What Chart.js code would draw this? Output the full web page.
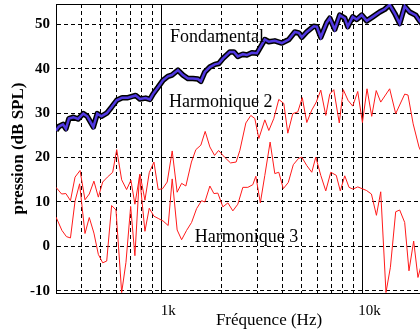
<!DOCTYPE html>
<html>
<head>
<meta charset="utf-8">
<script src="https://cdn.jsdelivr.net/npm/chart.js@4.4.1/dist/chart.umd.min.js"></script>
<style>
  html, body { margin: 0; padding: 0; background: #fff; overflow: hidden; }
  #wrap { width: 425px; height: 333px; }
</style>
</head>
<body>
<div id="wrap"><canvas id="myChart" width="425" height="333"></canvas></div>
<script>
// Fondamental
const fondFreq = [300, 310, 325, 336, 348, 366, 386, 410, 429, 460, 481, 504, 536, 565, 601, 640, 683, 746, 784, 837, 879,
  910, 963, 1020, 1080, 1130, 1211, 1281, 1357, 1437, 1521, 1574, 1648, 1745, 1848, 1934, 2025, 2194, 2296, 2403, 2545,
  2664, 2821, 2987, 3273, 3426, 3669, 3975, 4306, 4612, 4828, 4996, 5290, 5730, 5931, 6209, 6649, 6881, 7287, 7716, 8169,
  8453, 8948, 9370, 9920, 10503, 11250, 12188, 12898, 13657, 14466, 15316, 16218, 17170, 18388, 19253, 19925];
const fondDb = [26.1, 27.0, 27.5, 26.5, 28.8, 29.1, 28.7, 29.9, 29.3, 26.9, 29.9, 29.3, 30.0, 31.3, 32.9, 33.5, 33.5, 34.0, 33.2, 33.4, 33.1,
  34.3, 35.8, 37.4, 38.3, 38.6, 39.7, 38.6, 37.8, 37.8, 37.7, 37.2, 39.3, 40.4, 41.0, 41.2, 42.3, 43.8, 43.8, 42.8, 43.3,
  43.1, 43.6, 43.5, 46.6, 46.1, 46.3, 45.8, 46.6, 48.3, 48.1, 47.1, 48.3, 49.6, 49.5, 47.1, 50.4, 51.4, 48.9, 52.1, 51.4,
  49.5, 51.7, 51.1, 52.1, 50.8, 51.7, 52.8, 53.4, 54.4, 52.5, 50.2, 54.1, 52.8, 52.1, 50.8, 50.0];

// Harmonique 2
const h2Freq = [300, 320, 336, 354, 373, 395, 418, 439, 463, 487, 512, 540, 574, 601, 636, 673, 707, 740, 784, 830, 872,
  920, 966, 1016, 1071, 1134, 1200, 1263, 1326, 1413, 1487, 1574, 1654, 1745, 1842, 1928, 2064, 2211, 2357, 2459, 2634,
  2789, 2919, 3056, 3273, 3426, 3627, 3840, 4067, 4257, 4507, 4773, 5025, 5290, 5601, 5897, 6209, 6574, 6881, 7204, 7672,
  8031, 8482, 8948, 9478, 10000, 10540, 11122, 11710, 12330, 13657, 14633, 16218, 16842, 17871, 19100, 19925];
const h2Db = [13.3, 11.8, 11.9, 10.3, 15.6, 17.1, 10.5, 11.8, 14.7, 11.1, 14.5, 15.6, 16.7, 21.8, 15.0, 12.8, 14.9, 9.5, 16.3, 10.4, 16.6,
  19.0, 12.8, 13.0, 14.5, 21.5, 12.2, 14.2, 13.6, 19.0, 21.8, 22.8, 25.9, 22.4, 20.5, 21.6, 20.1, 18.8, 19.0, 21.6, 27.8,
  29.5, 28.8, 24.3, 28.5, 26.1, 28.8, 33.1, 32.2, 25.5, 29.9, 30.3, 33.5, 27.9, 30.7, 32.5, 35.2, 29.5, 34.3, 35.3, 27.8,
  35.3, 32.9, 31.6, 34.9, 27.9, 35.5, 29.3, 35.1, 32.5, 35.5, 29.9, 34.3, 34.1, 27.6, 22.4, 20.5];

// Harmonique 3
const h3Freq = [300, 321, 338, 354, 373, 393, 418, 439, 463, 487, 512, 536, 567, 596, 636, 668, 705, 740, 780, 830, 872,
  920, 966, 1023, 1083, 1134, 1200, 1263, 1337, 1416, 1499, 1587, 1648, 1745, 1827, 1912, 2025, 2144, 2270, 2403, 2545,
  2695, 2853, 2953, 3109, 3273, 3477, 3669, 3840, 4044, 4281, 4533, 4811, 4996, 5290, 5601, 5863, 6209, 6574, 6961, 7413,
  7760, 8169, 8580, 8979, 9478, 10469, 11084, 11737, 12330, 13093, 13772, 14633, 15316, 16218, 17034, 17973, 18880, 19925];
const h3Db = [6.6, 3.6, 2.2, 1.9, 10.2, 14.1, 2.9, 6.5, 3.0, -1.8, -3.7, -3.3, 9.2, 8.2, -10.4, -3.6, 9.0, -2.1, 16.0, 3.4, 8.6,
  6.8, 6.3, 5.7, 4.7, 15.2, 3.7, 1.5, 3.6, 5.4, 8.5, 10.3, 10.0, 13.6, 11.9, 12.0, 8.9, 9.8, 8.0, 9.5, 13.3,
  13.3, 13.9, 15.8, 9.8, 16.0, 23.5, 16.4, 16.7, 13.0, 14.4, 18.4, 19.8, 20.1, 18.2, 16.7, 20.1, 16.0, 12.5, 16.7, 16.0,
  12.5, 15.9, 13.3, 12.9, 13.4, 12.6, 11.8, 7.0, 12.3, -10.4, -4.7, 7.8, 8.2, 5.4, -5.5, 1.2, -7.0, -3.0];

const yTicks = [-10, 0, 10, 20, 30, 40, 50];
const xTicks = [300, 400, 500, 600, 700, 800, 900, 1000, 2000, 3000, 4000, 5000, 6000, 7000, 8000, 9000, 10000, 20000];
const xLabels = { 1000: "1k", 10000: "10k" };

const pts = (fx, fy) => fx.map((f, i) => ({ x: f, y: fy[i] }));
const serif = "'Liberation Serif', 'Times New Roman', serif";

const decor = {
  id: "decor",
  beforeDatasetsDraw(chart) {
    const { ctx, chartArea: a, scales: { x } } = chart;
    ctx.save();
    ctx.strokeStyle = "#000";
    ctx.lineWidth = 1;
    [1000, 10000].forEach((v) => {
      const px = Math.round(x.getPixelForValue(v)) + 0.5;
      ctx.beginPath();
      ctx.moveTo(px, a.top);
      ctx.lineTo(px, a.bottom);
      ctx.stroke();
    });
    ctx.strokeRect(Math.round(a.left) + 0.5, Math.round(a.top) + 0.5, a.right - a.left, a.bottom - a.top);
    ctx.restore();
  },
  afterDraw(chart) {
    const { ctx, chartArea: a, scales: { x, y } } = chart;
    ctx.save();
    ctx.fillStyle = "#000";
    ctx.textAlign = "center";
    ctx.textBaseline = "middle";
    ctx.font = "18px " + serif;
    ctx.fillText("Fondamental", x.getPixelForValue(1891), y.getPixelForValue(47.1));
    ctx.fillText("Harmonique 2", x.getPixelForValue(1979), y.getPixelForValue(32.5));
    ctx.fillText("Harmonique 3", x.getPixelForValue(2655), y.getPixelForValue(2.0));

    ctx.font = "17px " + serif;
    ctx.fillText("Fréquence (Hz)", 269, 321);

    ctx.translate(18.5, (a.top + a.bottom) / 2);
    ctx.rotate(-Math.PI / 2);
    ctx.font = "bold 17px " + serif;
    ctx.fillText("pression (dB SPL)", 0, 0);
    ctx.restore();
  },
};

const ctx = document.getElementById("myChart");

new Chart(ctx, {
  type: "line",
  data: {
    datasets: [
      {
        label: "Fondamental",
        data: pts(fondFreq, fondDb),
        borderColor: "#5038e0",
        borderWidth: 2.5,
        pointRadius: 0,
        order: 0,
      },
      {
        label: "Fondamental contour",
        data: pts(fondFreq, fondDb),
        borderColor: "#000",
        borderWidth: 5.5,
        borderJoinStyle: "round",
        pointRadius: 0,
        order: 1,
      },
      {
        label: "Harmonique 2",
        data: pts(h2Freq, h2Db),
        borderColor: "#ff1a1a",
        borderWidth: 1,
        pointRadius: 0,
        order: 2,
      },
      {
        label: "Harmonique 3",
        data: pts(h3Freq, h3Db),
        borderColor: "#ff1a1a",
        borderWidth: 1,
        pointRadius: 0,
        order: 3,
      },
    ],
  },
  options: {
    responsive: false,
    animation: false,
    layout: { padding: { top: 4, right: 2, left: 0, bottom: 0 } },
    plugins: { legend: { display: false }, tooltip: { enabled: false } },
    scales: {
      x: {
        type: "logarithmic",
        min: 300,
        max: 20000,
        afterBuildTicks: (s) => { s.ticks = xTicks.map((v) => ({ value: v })); },
        afterFit: (s) => { s.height = 40; s.paddingLeft = 0; s.paddingRight = 0; },
        ticks: {
          autoSkip: false,
          maxRotation: 0,
          padding: 9,
          labelOffset: 7,
          color: "#000",
          font: { family: serif, size: 15 },
          callback: (v) => xLabels[v] || "",
        },
        grid: { color: "#000", lineWidth: 1, drawTicks: false },
        border: { display: true, color: "#000", width: 1, dash: [4, 3] },
      },
      y: {
        min: -10.5,
        max: 54.6,
        afterBuildTicks: (s) => { s.ticks = yTicks.map((v) => ({ value: v })); },
        afterFit: (s) => { s.width = 56; s.paddingTop = 0; s.paddingBottom = 0; },
        ticks: {
          padding: 6,
          color: "#000",
          font: { family: serif, size: 15, weight: "bold" },
        },
        grid: { color: "#000", lineWidth: 1, drawTicks: false },
        border: { display: true, color: "#000", width: 1, dash: [4, 3] },
      },
    },
  },
  plugins: [decor],
});
</script>
</body>
</html>
